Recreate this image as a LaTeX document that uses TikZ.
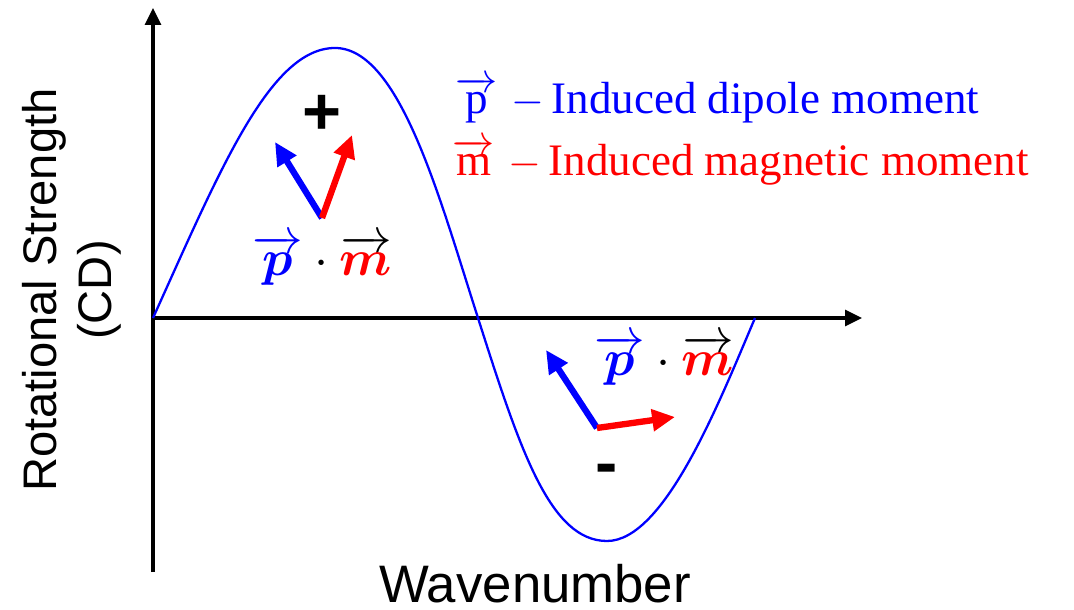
\documentclass[tikz,border=0pt]{standalone}
\usepackage{fontspec}
\usepackage{amsmath}
\setmainfont{Liberation Serif}
\setsansfont{Liberation Sans}
\usetikzlibrary{arrows.meta}

\tikzset{
  axis/.style={line width=0.9pt,-{Triangle[length=4.8pt,width=4.5pt]}},
  vec/.style={line width=1.8pt,-{Triangle[length=6.5pt,width=6pt]}},
  curve/.style={blue,line width=0.65pt},
  axlabel/.style={font=\sffamily\fontsize{13.4}{15.8}\selectfont,align=center},
  legend/.style={anchor=west,font=\fontsize{12.8}{15}\selectfont},
  sign/.style={font=\sffamily\bfseries\fontsize{19}{22}\selectfont},
  dotlabel/.style={font=\fontsize{14.5}{16}\selectfont}
}
\newcommand{\pvec}{{\color{blue}\overrightarrow{\boldsymbol{p}}}}
\newcommand{\mvec}{\overrightarrow{\color{red}\boldsymbol{m}}}

\begin{document}
\begin{tikzpicture}[x=0.01cm,y=-0.01cm]
  \useasboundingbox (0,0) rectangle (1074,610);

  % axes
  \coordinate (origin) at (153,318);
  \coordinate (ybot) at (153,572);
  \coordinate (ytip) at (153,8);
  \coordinate (xtip) at (862,318);
  \draw[axis] (ybot) -- (ytip);
  \draw[axis] (origin) -- (xtip);

  % CD band
  \draw[curve] (origin)
    .. controls (220,170) and (270,48) .. (335,48)
    .. controls (400,48) and (440,200) .. (478,318)
    .. controls (520,450) and (550,541) .. (607,541)
    .. controls (665,541) and (720,400) .. (755,318);

  % positive band
  \node[sign] (plus) at (322,115) {+};
  \coordinate (o1) at (322,218);
  \coordinate (p1) at (275,142);
  \coordinate (m1) at (352,135);
  \draw[vec,blue] (o1) -- (p1);
  \draw[vec,red] (o1) -- (m1);
  \node[dotlabel] (dot1) at (322,260) {$\pvec\cdot\mvec$};

  % negative band
  \node[sign] (minus) at (607,475) {-};
  \coordinate (o2) at (597,428);
  \coordinate (p2) at (546,350);
  \coordinate (m2) at (675,417);
  \draw[vec,blue] (o2) -- (p2);
  \draw[vec,red] (o2) -- (m2);
  \node[dotlabel] (dot2) at (664,360) {$\pvec\cdot\mvec$};

  % legend
  \node[legend,blue] (leg1) at (443,100)
    {$\overrightarrow{\mathrm{p}}$\hspace{4pt}$-$\hspace{2pt}Induced dipole moment};
  \node[legend,red] (leg2) at (440,162)
    {$\overrightarrow{\mathrm{m}}$\hspace{4pt}$-$\hspace{2pt}Induced magnetic moment};

  % axis labels
  \node[axlabel,rotate=90] (ylab) at (72,290) {Rotational Strength\\(CD)};
  \node[axlabel,font=\sffamily\fontsize{15}{18}\selectfont] (xlab) at (535,584) {Wavenumber};
\end{tikzpicture}
\end{document}
